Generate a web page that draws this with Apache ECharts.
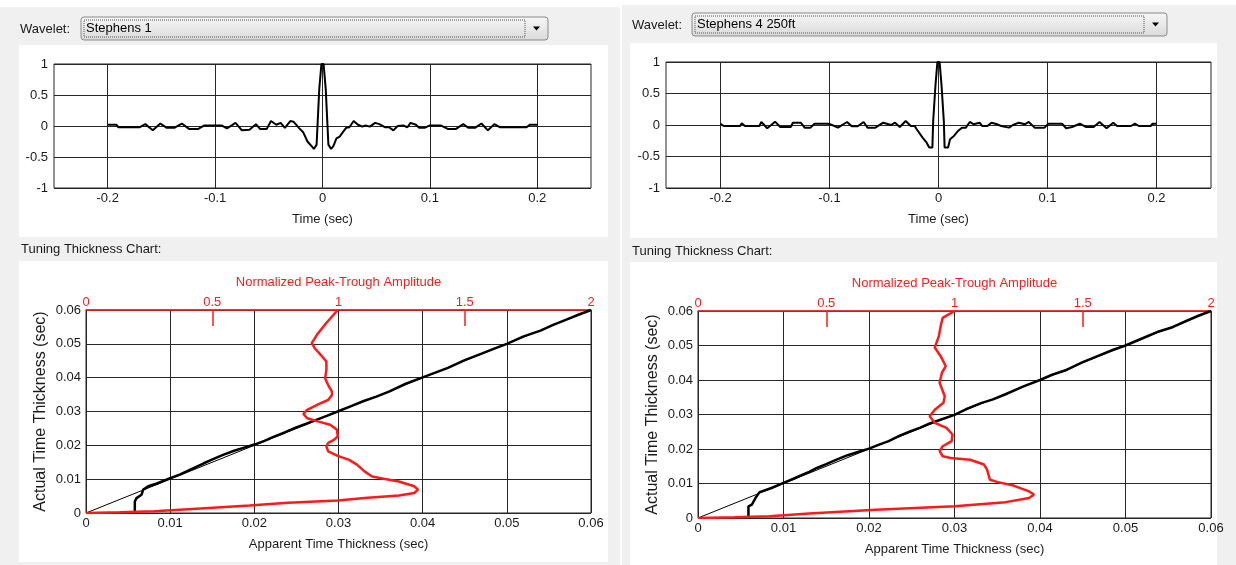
<!DOCTYPE html>
<html>
<head>
<meta charset="utf-8">
<script src="https://cdn.jsdelivr.net/npm/echarts@6/dist/echarts.min.js"></script>
<style>
html, body { margin: 0; padding: 0; background: #ffffff; }
#main { width: 1236px; height: 565px; }
</style>
</head>
<body>
<div id="main"></div>
<script>
// ---- Wavelet "Stephens 1" (time in sec, normalized amplitude) ----
const waveTimeL = [-0.2, -0.192, -0.19, -0.17, -0.165, -0.158, -0.151, -0.145, -0.138, -0.131, -0.124, -0.116, -0.11, -0.1,
  -0.094, -0.089, -0.081, -0.075, -0.068, -0.062, -0.058, -0.052, -0.048, -0.043, -0.039, -0.035, -0.03, -0.027, -0.022,
  -0.018, -0.014, -0.01, -0.008, -0.0055, -0.003, -0.001, 0.001, 0.003, 0.0055, 0.008, 0.01, 0.013, 0.016, 0.019, 0.022,
  0.025, 0.029, 0.033, 0.037, 0.04, 0.044, 0.049, 0.053, 0.058, 0.062, 0.066, 0.07, 0.075, 0.079, 0.082, 0.087, 0.09,
  0.095, 0.1, 0.11, 0.117, 0.124, 0.131, 0.136, 0.142, 0.148, 0.154, 0.16, 0.165, 0.19, 0.193, 0.2];
const waveAmpL = [0.02, 0.02, -0.02, -0.02, 0.03, -0.07, 0.04, -0.03, -0.03, 0.04, -0.05, -0.05, 0.01, 0.01,
  0.01, -0.04, 0.05, -0.07, -0.06, 0.03, -0.05, -0.05, 0.08, 0.02, 0.05, -0.03, 0.08, 0.07, -0.03,
  -0.1, -0.25, -0.33, -0.37, -0.3, 0.6, 1.0, 1.0, 0.6, -0.3, -0.37, -0.33, -0.2, -0.17, -0.1, -0.03,
  -0.02, 0.08, 0.02, -0.01, 0.01, -0.01, 0.05, 0.03, -0.02, -0.02, -0.07, 0.0, 0.01, -0.02, 0.05, 0.02, -0.03,
  -0.03, 0.01, 0.01, -0.05, -0.05, 0.03, -0.03, -0.03, 0.04, -0.07, 0.03, -0.02, -0.02, 0.02, 0.02];

// ---- Wavelet "Stephens 4 250ft" ----
const waveTimeR = [-0.2, -0.197, -0.182, -0.1805, -0.1776, -0.1643, -0.1625, -0.1571, -0.1499, -0.1452, -0.1354, -0.1336,
  -0.1264, -0.1228, -0.1174, -0.1138, -0.1012, -0.0976, -0.0922, -0.0839, -0.0796, -0.0741, -0.0687, -0.0651, -0.0579,
  -0.0507, -0.0435, -0.0399, -0.0355, -0.0301, -0.0254, -0.0218, -0.02, -0.0146, -0.011, -0.0085, -0.0056, -0.0049,
  -0.0027, -0.001, 0.001, 0.0027, 0.0049, 0.0056, 0.0088, 0.0106, 0.0142, 0.0179, 0.0215, 0.0251, 0.0287, 0.0323,
  0.0377, 0.0402, 0.0449, 0.0485, 0.0539, 0.0575, 0.0647, 0.0683, 0.0738, 0.0792, 0.0828, 0.0882, 0.0972, 0.1008,
  0.1134, 0.1171, 0.1225, 0.1297, 0.1351, 0.1423, 0.1477, 0.1542, 0.1603, 0.1639, 0.1766, 0.1802, 0.1838, 0.1946,
  0.1964, 0.2];
const waveAmpR = [0.02, -0.016, -0.016, 0.027, -0.016, -0.016, 0.048, -0.052, 0.053, -0.031, -0.031, 0.037,
  0.037, -0.042, -0.042, 0.02, 0.02, 0.0, -0.042, 0.048, -0.02, -0.02, 0.048, -0.042, -0.042,
  0.037, 0.0, 0.037, -0.031, 0.064, -0.016, -0.016, -0.068, -0.2, -0.277, -0.356, -0.356, 0.06,
  0.65, 1.0, 1.0, 0.65, 0.06, -0.356, -0.356, -0.225, -0.173, -0.094, -0.042, -0.042, 0.048, 0.011,
  0.037, -0.016, -0.016, 0.037, 0.011, -0.016, -0.042, 0.0, 0.037, 0.011, 0.048, -0.042, -0.042, 0.02,
  0.02, -0.052, -0.031, 0.02, -0.031, -0.031, 0.048, -0.052, 0.037, -0.016, -0.016, 0.02, -0.016, -0.016,
  0.02, 0.02];

// ---- Tuning chart, Stephens 1: apparent vs actual thickness (sec) ----
const appThickL = [0.0058, 0.0058, 0.006, 0.0066, 0.0068, 0.0074, 0.0085, 0.01, 0.0112, 0.0122, 0.0131, 0.014, 0.0149,
  0.0162, 0.0176, 0.0189, 0.0201, 0.0212, 0.0222, 0.0236, 0.0249, 0.0261, 0.0272, 0.0286, 0.0299, 0.0315, 0.033, 0.0345,
  0.036, 0.038, 0.04, 0.0415, 0.043, 0.045, 0.047, 0.0485, 0.05, 0.052, 0.054, 0.0555, 0.057, 0.0585, 0.06];
const actThickL = [0, 0.0034, 0.0044, 0.0054, 0.0069, 0.0079, 0.0088, 0.0103, 0.0114, 0.0126, 0.0136, 0.0147, 0.0157,
  0.0171, 0.0184, 0.0194, 0.0203, 0.0213, 0.0224, 0.0238, 0.0252, 0.0263, 0.0274, 0.0287, 0.03, 0.0316, 0.0331, 0.0344,
  0.0359, 0.0382, 0.0401, 0.0415, 0.0429, 0.0452, 0.0471, 0.0486, 0.05, 0.0522, 0.0539, 0.0556, 0.0571, 0.0586, 0.06];
// normalized peak-trough amplitude vs actual thickness
const ampNormL = [0, 0.133, 0.27, 0.421, 0.648, 0.8, 0.997, 1.103, 1.239, 1.3, 1.315, 1.3, 1.239, 1.179, 1.133, 1.103,
  1.073, 1.042, 0.997, 0.959, 0.952, 0.959, 0.982, 0.997, 0.994, 0.967, 0.921, 0.876, 0.861, 0.876, 0.921, 0.959,
  0.974, 0.974, 0.959, 0.947, 0.952, 0.952, 0.936, 0.906, 0.894, 0.914, 0.95, 0.997];
const ampActL = [0, 0.0002, 0.0005, 0.0012, 0.0022, 0.003, 0.0037, 0.0044, 0.0052, 0.0059, 0.0069, 0.0079, 0.0093, 0.0101,
  0.0108, 0.0123, 0.0143, 0.0157, 0.0169, 0.0182, 0.0197, 0.0207, 0.0216, 0.0226, 0.0246, 0.0261, 0.027, 0.028, 0.0293,
  0.0305, 0.0322, 0.0334, 0.0349, 0.0359, 0.0378, 0.0398, 0.0423, 0.0448, 0.0462, 0.0487, 0.0502, 0.0526, 0.056, 0.06];

// ---- Tuning chart, Stephens 4 250ft ----
const appThickR = [0.0059, 0.0059, 0.0063, 0.0068, 0.0072, 0.0086, 0.01, 0.0111, 0.0121, 0.013, 0.0139, 0.015, 0.0162,
  0.0175, 0.0188, 0.02, 0.0211, 0.0223, 0.0236, 0.0248, 0.026, 0.0271, 0.0286, 0.03, 0.0315, 0.0331, 0.0345, 0.0359,
  0.038, 0.04, 0.0415, 0.0431, 0.045, 0.0468, 0.0485, 0.05, 0.052, 0.0537, 0.0555, 0.0571, 0.0586, 0.06];
const actThickR = [0, 0.0034, 0.0039, 0.0061, 0.0075, 0.0087, 0.0102, 0.0113, 0.0124, 0.0134, 0.0145, 0.0156, 0.0169,
  0.0182, 0.0192, 0.0201, 0.0212, 0.0223, 0.0239, 0.0251, 0.0262, 0.0274, 0.0287, 0.0299, 0.0317, 0.0333, 0.0344, 0.0358,
  0.0381, 0.04, 0.0416, 0.0429, 0.0452, 0.047, 0.0487, 0.05, 0.0521, 0.0539, 0.0553, 0.0571, 0.0587, 0.06];
const ampNormR = [0, 0.141, 0.279, 0.433, 0.693, 1.0, 1.199, 1.291, 1.31, 1.291, 1.23, 1.169, 1.138, 1.127, 1.115, 1.061,
  0.985, 0.954, 0.942, 0.954, 0.989, 0.992, 0.969, 0.923, 0.903, 0.923, 0.957, 0.962, 0.942, 0.951, 0.966, 0.946,
  0.923, 0.939, 0.946, 0.954, 1.0];
const ampActR = [0, 0.0002, 0.0005, 0.0013, 0.0024, 0.0034, 0.0046, 0.0058, 0.0068, 0.0077, 0.0094, 0.0104, 0.0111,
  0.014, 0.0155, 0.0169, 0.0174, 0.0179, 0.0194, 0.0208, 0.0223, 0.0242, 0.0261, 0.0276, 0.0295, 0.0314, 0.0334,
  0.0353, 0.0392, 0.0421, 0.044, 0.0469, 0.0494, 0.0527, 0.0556, 0.058, 0.06];

// one-to-one reference line end points
const diagEnds = [0, 0.06];

// tick labels
const waveTimeTicks = [-0.2, -0.1, 0, 0.1, 0.2];
const ampTicks = [0.5, 1.5];
const ampLabels = [0, 0.5, 1, 1.5, 2];

const zip = (a, b) => a.map((v, i) => [v, b[i]]);

const FONT = 'Liberation Sans';
const INK = '#1a1a1a';
const RED = '#ff1a1a';
const GRIDC = '#262626';

function waveX(gridIndex) {
  return {
    type: 'value', gridIndex, min: -0.25, max: 0.25, interval: 0.05,
    name: 'Time (sec)', nameLocation: 'middle', nameGap: 25,
    nameTextStyle: { color: INK, fontFamily: FONT, fontSize: 13 },
    axisLine: { show: false },
    axisTick: { show: false, customValues: waveTimeTicks },
    axisLabel: { customValues: waveTimeTicks, color: INK, fontFamily: FONT, fontSize: 13, margin: 4 },
    splitLine: { show: true, lineStyle: { color: GRIDC, width: 1 } }
  };
}
function waveY(gridIndex) {
  return {
    type: 'value', gridIndex, min: -1, max: 1, interval: 0.5,
    axisLine: { show: false }, axisTick: { show: false },
    axisLabel: { color: INK, fontFamily: FONT, fontSize: 13, margin: 6 },
    splitLine: { show: true, lineStyle: { color: GRIDC, width: 1 } }
  };
}
function thickX(gridIndex, gap) {
  return {
    type: 'value', gridIndex, min: 0, max: 0.06, interval: 0.01,
    name: 'Apparent Time Thickness (sec)', nameLocation: 'middle', nameGap: gap,
    nameTextStyle: { color: INK, fontFamily: FONT, fontSize: 13 },
    axisLine: { show: false }, axisTick: { show: false },
    axisLabel: { color: INK, fontFamily: FONT, fontSize: 13, margin: 4 },
    splitLine: { show: true, lineStyle: { color: GRIDC, width: 1 } }
  };
}
function ampX(gridIndex) {
  return {
    type: 'value', gridIndex, position: 'top', min: 0, max: 2, interval: 0.5,
    name: 'Normalized Peak-Trough Amplitude', nameLocation: 'middle', nameGap: 21,
    nameTextStyle: { color: RED, fontFamily: FONT, fontSize: 13 },
    axisLine: { show: true, onZero: false, lineStyle: { color: RED, width: 1.5 } },
    axisTick: { show: true, inside: true, length: 16, customValues: ampTicks, lineStyle: { color: RED, width: 1.5 } },
    axisLabel: { customValues: ampLabels, color: RED, fontFamily: FONT, fontSize: 13, margin: 1 },
    splitLine: { show: false }
  };
}
function thickY(gridIndex, gap) {
  return {
    type: 'value', gridIndex, min: 0, max: 0.06, interval: 0.01,
    name: 'Actual Time Thickness (sec)', nameLocation: 'middle', nameGap: gap, nameRotate: 90,
    nameTextStyle: { color: INK, fontFamily: FONT, fontSize: 16 },
    axisLine: { show: false }, axisTick: { show: false },
    axisLabel: { color: INK, fontFamily: FONT, fontSize: 13, margin: 5 },
    splitLine: { show: true, lineStyle: { color: GRIDC, width: 1 } }
  };
}

const gridBase = { show: true, backgroundColor: '#ffffff', borderColor: GRIDC, borderWidth: 1 };

function comboBox(x, y, w, h, text) {
  return [
    { type: 'rect', shape: { x, y, width: w, height: h, r: 3 },
      style: { fill: new echarts.graphic.LinearGradient(0, 0, 0, 1, [
        { offset: 0, color: '#f6f6f6' }, { offset: 0.5, color: '#e9e9e9' }, { offset: 1, color: '#d9d9d9' }]),
        stroke: '#8a8a8a', lineWidth: 1 } },
    { type: 'rect', shape: { x: x + 3, y: y + 3, width: w - 26, height: h - 6 },
      style: { fill: 'none', stroke: '#555', lineWidth: 1, lineDash: [1, 1] } },
    { type: 'text', x: x + 5, y: y + h / 2,
      style: { text, fill: '#000', font: '13px "' + FONT + '"', verticalAlign: 'middle' } },
    { type: 'polygon', shape: { points: [[x + w - 15, y + h / 2 - 2], [x + w - 8, y + h / 2 - 2], [x + w - 11.5, y + h / 2 + 2]] },
      style: { fill: '#000' } }
  ];
}

const chart = echarts.init(document.getElementById('main'), null, { renderer: 'canvas' });

chart.setOption({
  animation: false,
  backgroundColor: '#ffffff',
  graphic: { elements: [
    { type: 'rect', z: -10, shape: { x: 0, y: 7, width: 620, height: 558 }, style: { fill: '#f0f0f0' } },
    { type: 'rect', z: -10, shape: { x: 622, y: 5, width: 614, height: 560 }, style: { fill: '#f0f0f0' } },
    { type: 'rect', z: -9, shape: { x: 19, y: 45, width: 589, height: 192 }, style: { fill: '#ffffff' } },
    { type: 'rect', z: -9, shape: { x: 19, y: 261, width: 589, height: 301 }, style: { fill: '#ffffff' } },
    { type: 'rect', z: -9, shape: { x: 630, y: 43, width: 587, height: 195 }, style: { fill: '#ffffff' } },
    { type: 'rect', z: -9, shape: { x: 630, y: 262, width: 587, height: 303 }, style: { fill: '#ffffff' } },
    { type: 'text', x: 20, y: 29, style: { text: 'Wavelet:', fill: INK, font: '13px "' + FONT + '"', verticalAlign: 'middle' } },
    { type: 'text', x: 632, y: 25, style: { text: 'Wavelet:', fill: INK, font: '13px "' + FONT + '"', verticalAlign: 'middle' } },
    { type: 'text', x: 21, y: 249, style: { text: 'Tuning Thickness Chart:', fill: INK, font: '13px "' + FONT + '"', verticalAlign: 'middle' } },
    { type: 'text', x: 632, y: 251, style: { text: 'Tuning Thickness Chart:', fill: INK, font: '13px "' + FONT + '"', verticalAlign: 'middle' } },
    ...comboBox(81, 17, 467, 23, 'Stephens 1'),
    ...comboBox(692, 13, 475, 23, 'Stephens 4 250ft')
  ] },
  grid: [
    Object.assign({ left: 54, top: 64, width: 537, height: 124 }, gridBase),
    Object.assign({ left: 666, top: 62, width: 545, height: 126 }, gridBase),
    Object.assign({ left: 86, top: 310, width: 505, height: 203 }, gridBase),
    Object.assign({ left: 698, top: 311, width: 513, height: 207 }, gridBase)
  ],
  xAxis: [waveX(0), waveX(1), thickX(2, 25), ampX(2), thickX(3, 25), ampX(3)],
  yAxis: [waveY(0), waveY(1), thickY(2, 37), thickY(3, 37)],
  series: [
    { type: 'line', xAxisIndex: 0, yAxisIndex: 0, data: zip(waveTimeL, waveAmpL), showSymbol: false,
      lineStyle: { color: '#000', width: 2 } },
    { type: 'line', xAxisIndex: 1, yAxisIndex: 1, data: zip(waveTimeR, waveAmpR), showSymbol: false,
      lineStyle: { color: '#000', width: 2 } },
    { type: 'line', xAxisIndex: 2, yAxisIndex: 2, data: zip(diagEnds, diagEnds), showSymbol: false,
      lineStyle: { color: '#000', width: 1 } },
    { type: 'line', xAxisIndex: 2, yAxisIndex: 2, data: zip(appThickL, actThickL), showSymbol: false,
      lineStyle: { color: '#000', width: 2.5 } },
    { type: 'line', xAxisIndex: 3, yAxisIndex: 2, data: zip(ampNormL, ampActL), showSymbol: false,
      lineStyle: { color: RED, width: 2.5 } },
    { type: 'line', xAxisIndex: 4, yAxisIndex: 3, data: zip(diagEnds, diagEnds), showSymbol: false,
      lineStyle: { color: '#000', width: 1 } },
    { type: 'line', xAxisIndex: 4, yAxisIndex: 3, data: zip(appThickR, actThickR), showSymbol: false,
      lineStyle: { color: '#000', width: 2.5 } },
    { type: 'line', xAxisIndex: 5, yAxisIndex: 3, data: zip(ampNormR, ampActR), showSymbol: false,
      lineStyle: { color: RED, width: 2.5 } }
  ]
});
</script>
</body>
</html>
